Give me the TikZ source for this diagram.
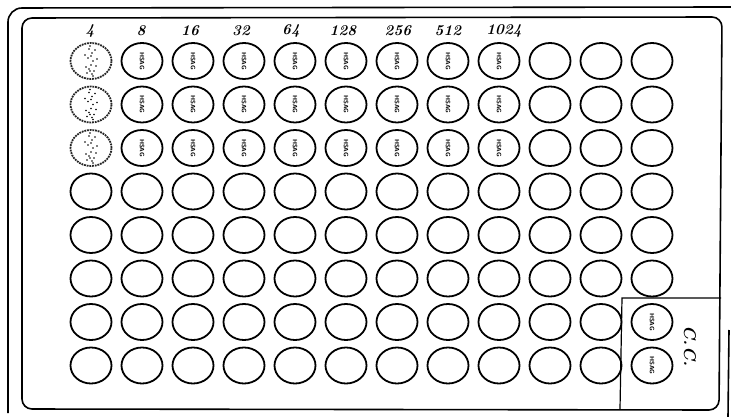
\documentclass[tikz,border=0pt]{standalone}
\usetikzlibrary{shapes.geometric}
\begin{document}
\begin{tikzpicture}[x=1pt,y=-1pt,
  well/.style={draw=black, ellipse, line width=1.8pt, minimum width=41pt, minimum height=36pt, inner sep=0pt},
  stipple/.style={well, draw=black!85, line width=1.8pt, dash pattern=on 1.8pt off 0.9pt},
  frame/.style={draw=black, line width=1.6pt},
  dil/.style={font=\bfseries\itshape\fontsize{15}{15}\selectfont, inner sep=0pt},
  hs/.style={font=\sffamily\bfseries\fontsize{6.3}{6.3}\selectfont, rotate=-90, inner sep=0pt}]
\useasboundingbox (0,0) rectangle (731,417);
\fill[white] (0,0) rectangle (731,417);
% outer frame (partial)
\draw[frame, rounded corners=14pt] (731,7) -- (8,8) -- (8,413);
\draw[frame] (729,330) -- (728,417);
% inner frame
\draw[frame, rounded corners=10pt] (22,18) -- (722,17) -- (719,410) -- (22,409) -- cycle;
% CC box
\coordinate (cctl) at (622,298);
\coordinate (cctr) at (721,298);
\coordinate (ccbl) at (620,409);
\draw[line width=1.2pt] (cctr) -- (cctl) -- (ccbl);
\node[font=\bfseries\itshape\fontsize{17}{17}\selectfont, rotate=-90, inner sep=0pt] (cc) at (690,346) {C.C.};
% wells
\foreach \c in {1,...,12}{
  \foreach \r in {1,...,8}{
    \pgfmathsetmacro{\xx}{91+51*(\c-1)}
    \pgfmathsetmacro{\yy}{61+43.5*(\r-1)}
    \ifnum\c=1 \ifnum\r<4
      \node[stipple] (w\r-\c) at (\xx,\yy) {};
    \else
      \node[well] (w\r-\c) at (\xx,\yy) {};
    \fi\else
      \node[well] (w\r-\c) at (\xx,\yy) {};
    \fi
  }
}
% stipple dots in first column
\foreach \r in {1,2,3}{
  \pgfmathsetmacro{\yy}{61+43.5*(\r-1)}
  \foreach \dx/\dy in {-2/-12, 1/-8, -3/-3, 2/0, 0/4, -2/8, 3/10, 1/13, -6/-6, 6/-2, -5/6, 4/-11, -1/-15, 2/15, -4/12, 5/5, 0/-5, -1/10}
    \fill[black] (91+\dx,\yy+\dy) circle[radius=0.8pt];
}
% HSAG labels
\foreach \c in {2,...,9}{
  \foreach \r in {1,2,3}{
    \node[hs] (t\r-\c) at (w\r-\c) {HSAG};
  }
}
\node[hs] (t7-12) at (w7-12) {HSAG};
\node[hs] (t8-12) at (w8-12) {HSAG};
% dilution labels
\node[dil] (l1) at (90,31) {4};
\node[dil] (l2) at (141,31) {8};
\node[dil] (l3) at (190,31) {16};
\node[dil] (l4) at (241,31) {32};
\node[dil] (l5) at (291,31) {64};
\node[dil] (l6) at (343,31) {128};
\node[dil] (l7) at (398,31) {256};
\node[dil] (l8) at (448,31) {512};
\node[dil] (l9) at (504,31) {1024};
\end{tikzpicture}
\end{document}
